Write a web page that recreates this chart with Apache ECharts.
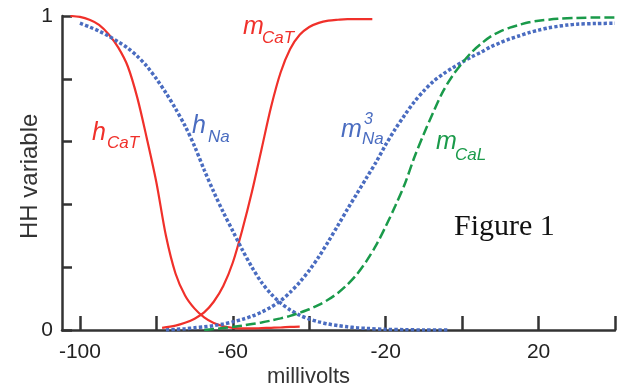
<!DOCTYPE html>
<html>
<head>
<meta charset="utf-8">
<script src="https://cdn.jsdelivr.net/npm/echarts@6/dist/echarts.min.js"></script>
<style>
  html, body { margin: 0; padding: 0; background: #fff; }
  #chart { width: 621px; height: 389px; }
</style>
</head>
<body>
<div id="chart"></div>
<script>
// curves, [millivolts, value]
var hCaT = [[-102.5,1.0],[-100,0.997],[-97.5,0.988],[-95,0.972],[-92.5,0.942],[-90,0.90],[-87.5,0.84],
    [-85,0.74],[-82.5,0.61],[-80,0.47],[-77.5,0.30],[-75,0.18],[-72.5,0.11],[-70,0.068],[-67.5,0.04],
    [-65,0.022],[-62.5,0.012],[-60,0.007],[-57.5,0.005],[-55,0.005],[-52.5,0.006],[-50,0.007],
    [-47.5,0.008],[-45,0.01],[-42.5,0.011]];
var mCaT = [[-78.5,0.007],[-75,0.014],[-72.5,0.023],[-70,0.036],[-67.5,0.056],[-65,0.09],[-62.5,0.14],
    [-60,0.215],[-57.5,0.32],[-55,0.44],[-52.5,0.575],[-50,0.71],[-47.5,0.82],[-45,0.895],[-42.5,0.94],
    [-40,0.965],[-37.5,0.978],[-35,0.985],[-32.5,0.988],[-30,0.99],[-27.5,0.99],[-23.5,0.99]];
var hNa = [[-100,0.977],[-97.5,0.965],[-95,0.952],[-92.5,0.936],[-90,0.918],[-87.5,0.898],[-85,0.872],
    [-82.5,0.84],[-80,0.80],[-77.5,0.755],[-75,0.705],[-72.5,0.65],[-70,0.585],[-67.5,0.51],[-65,0.44],
    [-62.5,0.375],[-60,0.315],[-57.5,0.255],[-55,0.20],[-52.5,0.152],[-50,0.115],[-47.5,0.086],
    [-45,0.064],[-42.5,0.047],[-40,0.035],[-37.5,0.026],[-35,0.019],[-32.5,0.014],[-30,0.01],
    [-27.5,0.007],[-25,0.005],[-20,0.002],[-15,0.001],[-10,0],[-3.5,0]];
var mNa3 = [[-77.5,0.0],[-75,0.002],[-72.5,0.004],[-70,0.007],[-67.5,0.01],[-65,0.014],[-62.5,0.019],
    [-60,0.026],[-57.5,0.034],[-55,0.044],[-52.5,0.057],[-50,0.073],[-47.5,0.093],[-45,0.12],
    [-42.5,0.152],[-40,0.19],[-37.5,0.233],[-35,0.282],[-32.5,0.333],[-30,0.385],[-27.5,0.435],
    [-25,0.485],[-22.5,0.535],[-20,0.59],[-17.5,0.64],[-15,0.685],[-12.5,0.727],[-10,0.762],
    [-7.5,0.792],[-5,0.815],[-2.5,0.835],[0,0.853],[2.5,0.87],[5,0.885],[7.5,0.902],[10,0.915],
    [12.5,0.927],[15,0.937],[17.5,0.947],[20,0.955],[22.5,0.962],[25,0.967],[27.5,0.971],[30,0.974],
    [35,0.976],[40,0.977]];
var mCaL = [[-67.5,0.0],[-65,0.003],[-62.5,0.006],[-60,0.01],[-57.5,0.014],[-55,0.019],[-52.5,0.024],
    [-50,0.03],[-47.5,0.037],[-45,0.045],[-42.5,0.055],[-40,0.066],[-37.5,0.08],[-35,0.097],
    [-32.5,0.118],[-30,0.145],[-27.5,0.178],[-25,0.22],[-22.5,0.27],[-20,0.33],[-17.5,0.395],
    [-15,0.465],[-12.5,0.55],[-10,0.625],[-7.5,0.695],[-5,0.76],[-2.5,0.81],[0,0.85],[2.5,0.885],
    [5,0.912],[7.5,0.935],[10,0.951],[12.5,0.963],[15,0.972],[17.5,0.98],[20,0.985],[25,0.991],
    [30,0.994],[35,0.995],[40,0.995]];

var xTicks = [-100, -80, -60, -40, -20, 0, 20, 40];
var xLabels = [-100, -60, -20, 20];

var RED = '#f0302a', BLUE = '#4a6cc0', GREEN = '#1a9a4a';

var myChart = echarts.init(document.getElementById('chart'));

function txt(x, y, s, size, color, italic) {
    return {
        type: 'text', left: x, top: y,
        style: {
            text: s, fill: color,
            font: (italic ? 'italic ' : '') + size + 'px "Liberation Sans", Arial, sans-serif'
        }
    };
}

var graphics = [
    txt(243, 15, 'm', 25, RED, true), txt(262, 30, 'CaT', 17, RED, true),
    txt(92, 121, 'h', 25, RED, true), txt(107, 135, 'CaT', 17, RED, true),
    txt(192, 114, 'h', 25, BLUE, true), txt(208, 129, 'Na', 17, BLUE, true),
    txt(341, 118, 'm', 25, BLUE, true), txt(364, 112, '3', 16, BLUE, true), txt(362, 131, 'Na', 17, BLUE, true),
    txt(436, 130, 'm', 25, GREEN, true), txt(455, 147, 'CaL', 17, GREEN, true),
    {
        type: 'text', left: 454, top: 212,
        style: { text: 'Figure 1', fill: '#111', font: '30px "Liberation Serif", "Times New Roman", serif' }
    },
    {
        type: 'text', left: 267, top: 366,
        style: { text: 'millivolts', fill: '#333', font: '22px "Liberation Sans", Arial, sans-serif' }
    },
    {
        type: 'text', x: 18, y: 239, rotation: Math.PI / 2,
        style: { text: 'HH variable', fill: '#333', font: '24px "Liberation Sans", Arial, sans-serif' }
    }
];

function curve(data, color, type, width) {
    return {
        type: 'line', data: data, showSymbol: false, smooth: 0.3,
        silent: true, animation: false,
        lineStyle: { color: color, type: type, width: width, cap: 'butt' }
    };
}

option = {
    animation: false,
    grid: { left: 62, right: 6, top: 16, bottom: 59 },
    xAxis: {
        type: 'value', min: -104.7, max: 40,
        splitLine: { show: false },
        axisLine: { onZero: false, lineStyle: { color: '#333', width: 2.5 } },
        axisTick: { customValues: xTicks, inside: true, length: 14, lineStyle: { color: '#333', width: 2.5 } },
        axisLabel: {
            customValues: xLabels, margin: 12, color: '#222', fontSize: 21,
            fontFamily: '"Liberation Sans", Arial, sans-serif'
        }
    },
    yAxis: {
        type: 'value', min: 0, max: 1, interval: 0.2,
        splitLine: { show: false },
        axisLine: { show: true, onZero: false, lineStyle: { color: '#333', width: 2.5 } },
        axisTick: { show: true, inside: true, length: 10, lineStyle: { color: '#333', width: 2.5 } },
        axisLabel: {
            margin: 9, color: '#222', fontSize: 21,
            fontFamily: '"Liberation Sans", Arial, sans-serif',
            formatter: function (v) { return (v === 0 || v === 1) ? String(v) : ''; }
        }
    },
    graphic: graphics,
    series: [
        curve(hCaT, RED, 'solid', 2.2),
        curve(mCaT, RED, 'solid', 2.2),
        curve(hNa, BLUE, [3.3, 2.2], 3.5),
        curve(mNa3, BLUE, [3.3, 2.2], 3.5),
        curve(mCaL, GREEN, [10, 4], 2.5)
    ]
};
myChart.setOption(option, true);
</script>
</body>
</html>
